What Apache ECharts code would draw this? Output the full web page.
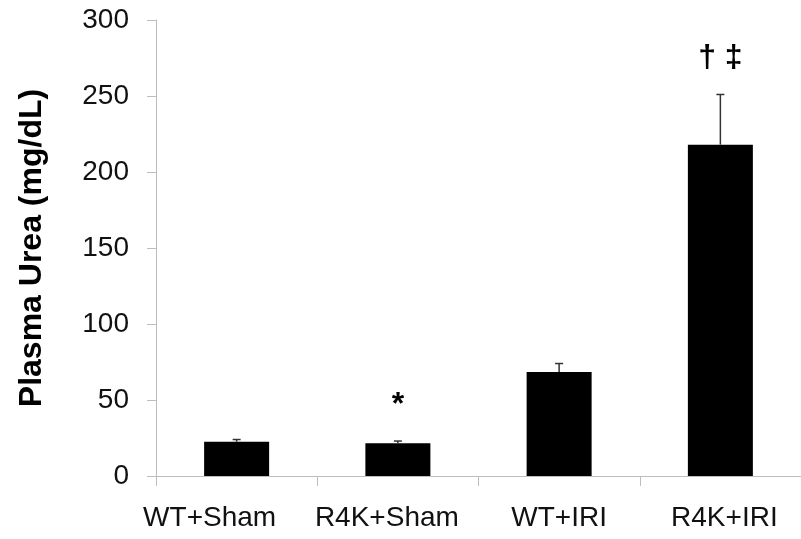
<!DOCTYPE html>
<html>
<head>
<meta charset="utf-8">
<script src="https://cdn.jsdelivr.net/npm/echarts@6/dist/echarts.min.js"></script>
<style>
html,body{margin:0;padding:0;background:#fff;}
#chart{width:801px;height:539px;}
</style>
</head>
<body>
<div id="chart"></div>
<script>
// Data
var categories = ['WT+Sham', 'R4K+Sham', 'WT+IRI', 'R4K+IRI'];
var values = [22.5, 21.5, 68.5, 218];
var errors = [1.5, 1.5, 5.5, 33];
var annotations = ['', '*', '', '\u2020 \u2021'];
var yTicks = [0, 50, 100, 150, 200, 250, 300];

var FONT = '"Liberation Sans", Arial, Helvetica, sans-serif';
var AXIS_GRAY = '#bdbdbd';
// small horizontal nudges of category labels (as in reference)
var labelShift = [-27, -11, 0, 4];

var chart = echarts.init(document.getElementById('chart'), null, {renderer: 'canvas'});

var xData = categories.map(function (c, i) {
  var s = labelShift[i];
  var pad = s < 0 ? [0, -2 * s, 0, 0] : [0, 0, 0, 2 * s];
  return {value: c, textStyle: {padding: pad}};
});

var errData = values.map(function (v, i) { return [i, v, v + errors[i], annotations[i]]; });

var option = {
  animation: false,
  backgroundColor: '#ffffff',
  grid: {left: 156, top: 20, width: 652, height: 456, containLabel: false},
  xAxis: {
    type: 'category',
    data: xData,
    boundaryGap: true,
    axisLine: {show: true, lineStyle: {color: AXIS_GRAY, width: 1}},
    axisTick: {show: true, length: 10, alignWithLabel: false, lineStyle: {color: AXIS_GRAY}},
    axisLabel: {color: '#111', fontSize: 28, fontFamily: FONT, margin: 28, interval: 0},
    splitLine: {show: false}
  },
  yAxis: {
    type: 'value',
    min: yTicks[0],
    max: yTicks[yTicks.length - 1],
    interval: yTicks[1] - yTicks[0],
    name: 'Plasma Urea (mg/dL)',
    nameLocation: 'middle',
    nameGap: 108,
    nameTextStyle: {color: '#000', fontSize: 32, fontWeight: 'bold', fontFamily: FONT},
    axisLine: {show: true, lineStyle: {color: AXIS_GRAY, width: 1}},
    axisTick: {show: true, length: 9, lineStyle: {color: AXIS_GRAY}},
    axisLabel: {color: '#111', fontSize: 28, fontFamily: FONT, margin: 27},
    splitLine: {show: false}
  },
  series: [
    {
      type: 'bar',
      data: values,
      barWidth: 65,
      itemStyle: {color: '#000'},
      z: 2
    },
    {
      type: 'custom',
      data: errData,
      z: 3,
      renderItem: function (params, api) {
        var base = api.coord([api.value(0), api.value(1)]);
        var top = api.coord([api.value(0), api.value(2)]);
        var txt = errData[params.dataIndex][3];
        var children = [
          {type: 'line', shape: {x1: base[0], y1: base[1], x2: top[0], y2: top[1]},
           style: {stroke: '#333', lineWidth: 1.5}},
          {type: 'line', shape: {x1: top[0] - 4, y1: top[1], x2: top[0] + 4, y2: top[1]},
           style: {stroke: '#333', lineWidth: 1.5}}
        ];
        if (txt) {
          children.push({
            type: 'text',
            style: {
              text: txt, x: top[0], y: top[1] - 36,
              align: 'center', verticalAlign: 'middle',
              fontSize: 32, fontWeight: 'bold', fontFamily: FONT, fill: '#000'
            }
          });
        }
        return {type: 'group', children: children};
      }
    }
  ]
};
chart.setOption(option);
</script>
</body>
</html>
